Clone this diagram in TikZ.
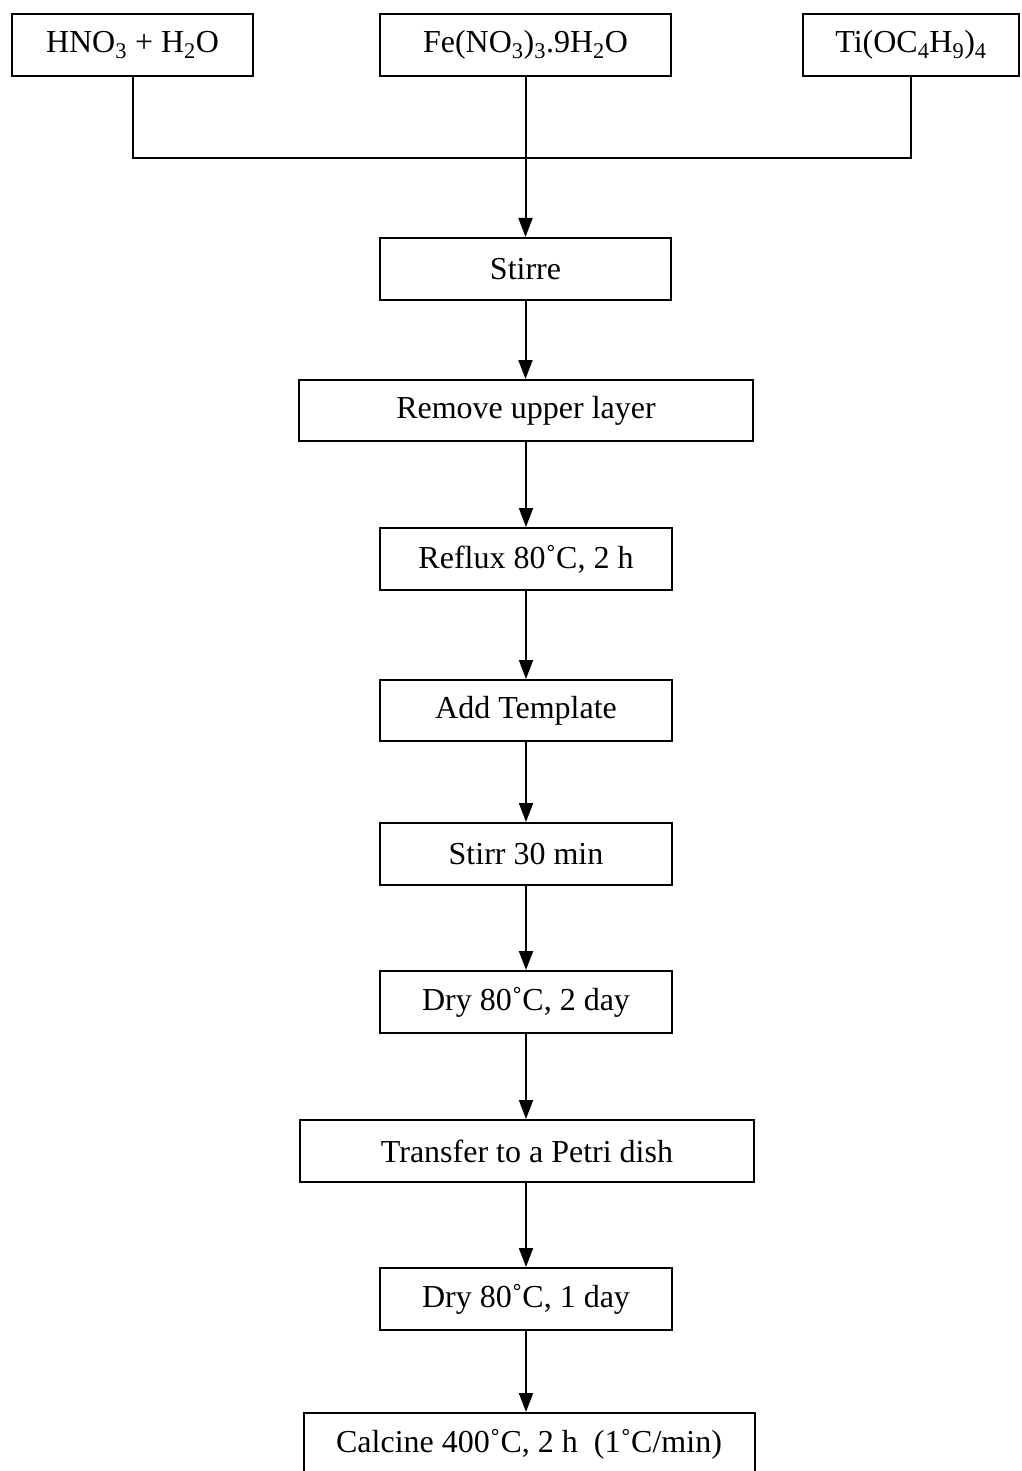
\documentclass[tikz,border=0pt]{standalone}
\usepackage{fontspec}
\setmainfont{Liberation Serif}
\usetikzlibrary{arrows.meta}
\begin{document}
\begin{tikzpicture}[x=1pt,y=1pt,
  box/.style={draw=black, line width=2pt, minimum height=62pt, inner sep=0pt,
    font=\fontsize{32}{38}\selectfont},
  conn/.style={draw=black, line width=2pt},
  arr/.style={conn, -{Triangle[width=14pt,length=19pt]}}]
\useasboundingbox (0,0) rectangle (1021,-1471);
\node[box, minimum width=241pt] (hno) at (132.5,-45) {HNO\textsubscript{3} + H\textsubscript{2}O};
\node[box, minimum width=291pt] (fe) at (525.5,-45) {Fe(NO\textsubscript{3})\textsubscript{3}.9H\textsubscript{2}O};
\node[box, minimum width=216pt] (ti) at (911,-45) {Ti(OC\textsubscript{4}H\textsubscript{9})\textsubscript{4}};
\node[box, minimum width=291pt] (stirre) at (525.5,-269) {Stirre};
\node[box, minimum width=454pt, minimum height=61pt] (remove) at (526,-410.5) {Remove upper layer};
\node[box, minimum width=292pt] (reflux) at (526,-559) {Reflux 80˚C, 2 h};
\node[box, minimum width=292pt, minimum height=61pt] (add) at (526,-710.5) {Add Template};
\node[box, minimum width=292pt] (stirr) at (526,-854) {Stirr 30 min};
\node[box, minimum width=292pt] (dryA) at (526,-1002) {Dry 80˚C, 2 day};
\node[box, minimum width=454pt] (transfer) at (527,-1151) {Transfer to a Petri dish};
\node[box, minimum width=292pt] (dryB) at (526,-1299) {Dry 80˚C, 1 day};
\node[box, minimum width=451pt, minimum height=62pt] (calcine) at (529,-1444) {Calcine 400˚C, 2 h\ \ (1˚C/min)};
\coordinate (j) at (525.5,-158);
\draw[conn] (hno.south) |- (j) -| (ti.south);
\draw[arr] (fe.south) -- (fe.south |- stirre.north);
\draw[arr] (stirre.south) -- (stirre.south |- remove.north);
\draw[arr] (reflux.north |- remove.south) -- (reflux.north);
\draw[arr] (reflux.south) -- (reflux.south |- add.north);
\draw[arr] (add.south) -- (add.south |- stirr.north);
\draw[arr] (stirr.south) -- (stirr.south |- dryA.north);
\draw[arr] (dryA.south) -- (dryA.south |- transfer.north);
\draw[arr] (dryB.north |- transfer.south) -- (dryB.north);
\draw[arr] (dryB.south) -- (dryB.south |- calcine.north);
\end{tikzpicture}
\end{document}
